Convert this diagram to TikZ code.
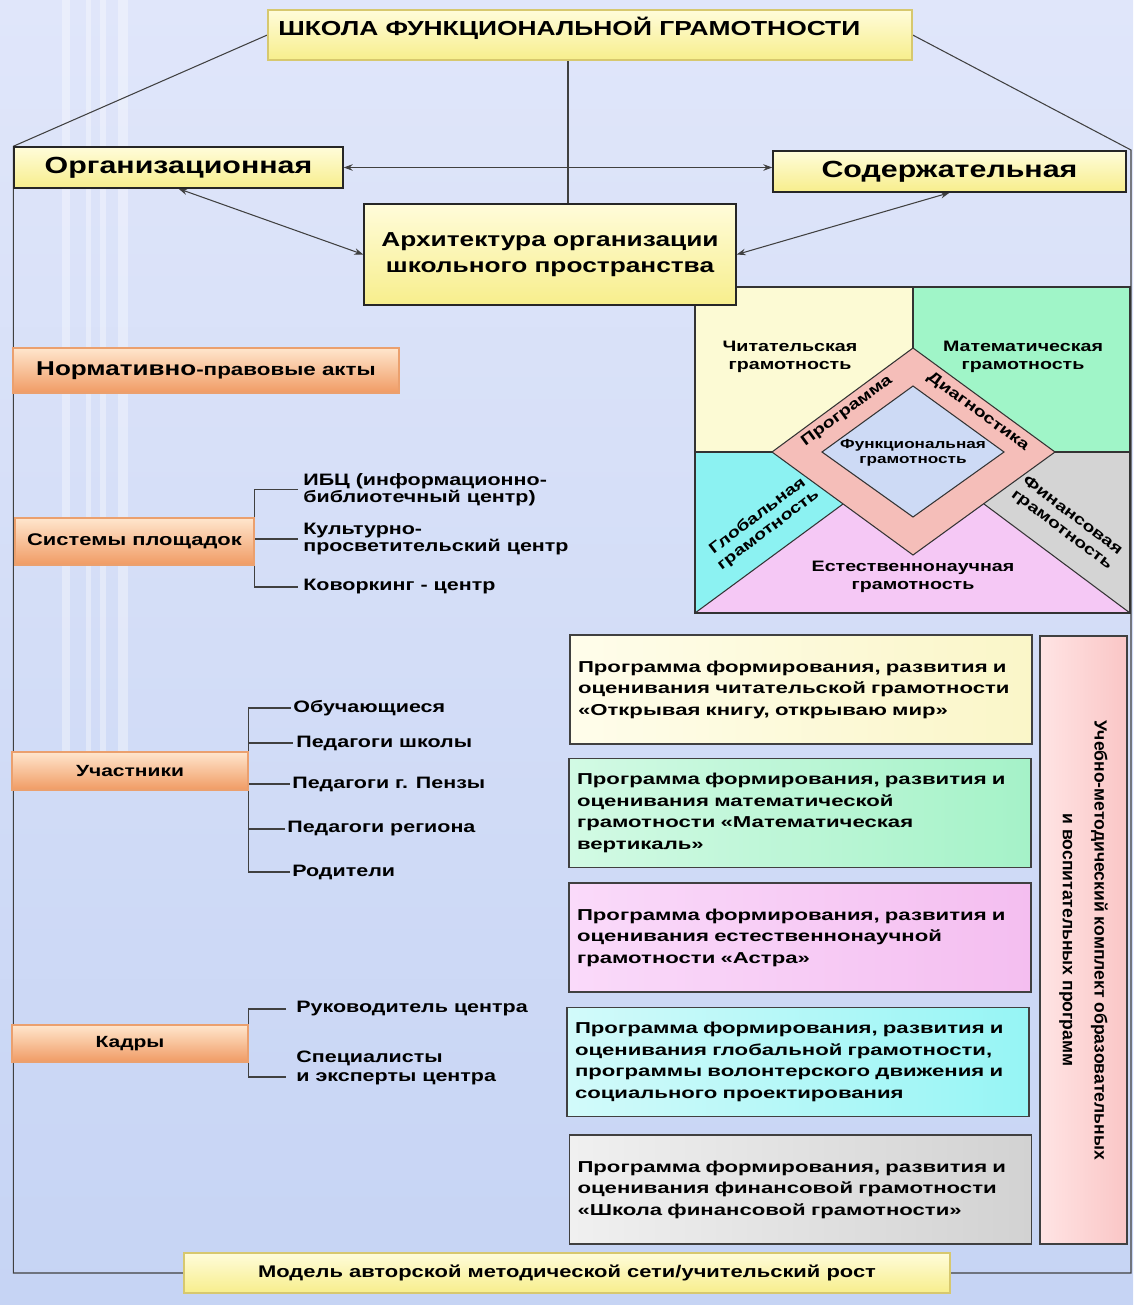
\documentclass[tikz,border=0pt]{standalone}
\usepackage{fontspec}
\setmainfont{Liberation Sans}[FakeStretch=1.3]
\newfontfamily\progfont{Liberation Sans}[FakeStretch=1.4]
\newfontfamily\vertfont{Liberation Sans}
\usetikzlibrary{arrows.meta,calc}
\pgfdeclarelayer{bg}
\pgfdeclarelayer{lines}
\pgfsetlayers{bg,lines,main}

\definecolor{bgT}{RGB}{224,230,250}
\definecolor{bgB}{RGB}{198,212,244}
\definecolor{yelA}{RGB}{255,252,218}
\definecolor{yelB}{RGB}{247,238,140}
\definecolor{yelE}{RGB}{215,200,110}
\definecolor{orA}{RGB}{255,230,205}
\definecolor{orM}{RGB}{250,195,150}
\definecolor{orB}{RGB}{240,155,100}
\definecolor{orE}{RGB}{235,160,110}
\definecolor{chitC}{RGB}{252,250,212}
\definecolor{matC}{RGB}{160,245,200}
\definecolor{globC}{RGB}{140,242,242}
\definecolor{finC}{RGB}{212,212,212}
\definecolor{estC}{RGB}{245,200,245}
\definecolor{ringC}{RGB}{245,190,185}
\definecolor{innerC}{RGB}{205,218,245}
\definecolor{pYa}{RGB}{255,253,235}
\definecolor{pYb}{RGB}{250,246,200}
\definecolor{pGa}{RGB}{210,250,228}
\definecolor{pGb}{RGB}{165,242,200}
\definecolor{pPa}{RGB}{250,218,250}
\definecolor{pPb}{RGB}{244,190,240}
\definecolor{pCa}{RGB}{210,250,250}
\definecolor{pCb}{RGB}{150,245,245}
\definecolor{pRa}{RGB}{240,240,240}
\definecolor{pRb}{RGB}{210,210,210}
\definecolor{umkA}{RGB}{255,228,228}
\definecolor{umkB}{RGB}{250,198,198}

\tikzset{
  sz/.style 2 args={minimum width={#1*0.02cm}, minimum height={#2*0.02cm}},
  conn/.style={draw=black!75, line width=0.6pt},
  arr/.style={conn, {Stealth[length=1.8mm,width=1.3mm]}-{Stealth[length=1.8mm,width=1.3mm]}},
  ybox/.style={draw=black!85, line width=0.8pt, top color=yelA, bottom color=yelB, inner sep=0pt},
  titlebox/.style={draw=yelE, line width=0.8pt, top color=yelA, bottom color=yelB, inner sep=0pt},
  obox/.style={draw=orE, line width=0.6pt, top color=orA, middle color=orM, bottom color=orB, inner sep=0pt, font=\bfseries\fontsize{9.4}{11}\selectfont},
  item/.style={anchor=west, align=left, inner ysep=0pt, font=\bfseries\fontsize{9.4}{10}\selectfont},
  prog/.style={draw=black!75, line width=0.9pt, sz={462}{109}, text width=8.92cm, inner xsep=0.16cm, inner ysep=0pt, align=left, font=\progfont\bfseries\fontsize{9}{12.2}\selectfont},
  dtext/.style={align=center, inner sep=0pt, font=\bfseries\fontsize{8.6}{10}\selectfont},
  region/.style={draw=black!80, line width=0.6pt},
}

\begin{document}
\begin{tikzpicture}[x=0.02cm, y=-0.02cm]
\useasboundingbox (0,0) rectangle (1133,1305);
\begin{pgfonlayer}{bg}
  \shade[top color=bgT, bottom color=bgB] (0,0) rectangle (1133,1305);
  \fill[white, opacity=0.35] (62,0) rectangle (70,760);
  \fill[white, opacity=0.35] (86,0) rectangle (91,760);
  \fill[white, opacity=0.35] (100,0) rectangle (106,760);
  \fill[white, opacity=0.35] (118,0) rectangle (128,760);
\end{pgfonlayer}

% ---------- diamond panel ----------
\fill[chitC] (695,287) rectangle (913,452);
\fill[matC] (913,287) rectangle (1130,452);
\fill[globC] (695,452) -- (772,452) -- (843,504) -- (695,613) -- cycle;
\fill[finC] (1055,452) -- (1130,452) -- (1130,613) -- (984,504) -- cycle;
\fill[estC] (695,613) -- (843,504) -- (913,555) -- (984,504) -- (1130,613) -- cycle;
\draw[region] (695,287) rectangle (1130,613);
\draw[region] (913,287) -- (913,348);
\draw[region] (695,452) -- (772,452);
\draw[region] (1055,452) -- (1130,452);
\draw[region] (843,504) -- (695,613);
\draw[region] (984,504) -- (1130,613);
\filldraw[region, fill=ringC] (913,348) -- (1055,452) -- (913,555) -- (772,452) -- cycle;
\filldraw[region, fill=innerC] (913,386) -- (1004,452) -- (913,517) -- (822,452) -- cycle;

\node[dtext] (chit) at (790,357) {Читательская\\грамотность};
\node[dtext] (mat) at (1023,357) {Математическая\\грамотность};
\node[dtext, rotate=36.4] (prg) at (847,411) {Программа};
\node[dtext, rotate=-36.4] (diag) at (978,412) {Диагностика};
\node[dtext, font=\bfseries\fontsize{7.5}{8.5}\selectfont] (func) at (913,453) {Функциональная\\грамотность};
\node[dtext, rotate=37] (glob) at (763,523) {Глобальная\\грамотность};
\node[dtext, rotate=-37] (fin) at (1067,523) {Финансовая\\грамотность};
\node[dtext] (est) at (913,577) {Естественнонаучная\\грамотность};

% ---------- top boxes ----------
\node[titlebox, sz={644}{50}] (title) at (590,35) {};
\node[anchor=west, inner sep=0pt, font=\bfseries\fontsize{11.55}{13}\selectfont] (titletext) at (278,28) {ШКОЛА ФУНКЦИОНАЛЬНОЙ ГРАМОТНОСТИ};
\node[ybox, sz={329}{41}, font=\bfseries\fontsize{13.3}{15}\selectfont] (org) at (178.5,167.5) {Организационная};
\node[ybox, sz={353}{41}, font=\bfseries\fontsize{13.3}{15}\selectfont] (sod) at (949.5,171.5) {Содержательная};
\node[ybox, sz={372}{101}, align=center, font=\bfseries\fontsize{11.5}{14.7}\selectfont] (arch) at (550,254.5) {Архитектура организации\\школьного пространства};

% ---------- left orange boxes ----------
\node[obox, sz={386}{45}] (norm) at (206,370.5) {{\fontsize{11.4}{13}\selectfont Нормативно}{\fontsize{9.8}{11}\selectfont -правовые акты}};
\node[obox, sz={239}{47}, font=\bfseries\fontsize{9.6}{11}\selectfont] (sys) at (134.5,541.5) {Системы площадок};
\node[obox, sz={236}{38}, font=\bfseries\fontsize{9.2}{11}\selectfont] (uch) at (130,771) {Участники};
\node[obox, sz={236}{37}, font=\bfseries\fontsize{9.2}{11}\selectfont] (kad) at (130,1043.5) {Кадры};

% items of Системы площадок
\node[item, inner xsep=0.1cm, font=\bfseries\fontsize{9.4}{9.6}\selectfont] (ibc) at (298,489.5) {ИБЦ (информационно-\\библиотечный центр)};
\node[item, inner xsep=0.1cm, font=\bfseries\fontsize{9.4}{10.2}\selectfont] (kpc) at (298,539) {Культурно-\\просветительский центр};
\node[item, inner xsep=0.1cm] (cow) at (298,587) {Коворкинг - центр};

% items of Участники
\node[item, inner xsep=0.04cm] (ob) at (291,708) {Обучающиеся};
\node[item, inner xsep=0.06cm] (ps) at (293,743) {Педагоги школы};
\node[item, inner xsep=0.04cm] (pp) at (290,784) {Педагоги г. Пензы};
\node[item, inner xsep=0.04cm] (pr) at (285,829) {Педагоги региона};
\node[item, inner xsep=0.04cm] (rod) at (290,872) {Родители};

% items of Кадры
\node[item, inner xsep=0.2cm] (ruk) at (286,1009) {Руководитель центра};
\node[item, inner xsep=0.2cm, font=\bfseries\fontsize{9.4}{11.3}\selectfont] (spec) at (286,1068) {Специалисты\\и эксперты центра};
\coordinate (spect) at ($(spec.west)+(0,9)$);

% ---------- program boxes ----------
\node[prog, left color=pYa, right color=pYb] (p1) at (801,689.5) {\mbox{Программа формирования, развития и}\\\mbox{оценивания читательской грамотности}\\\mbox{«Открывая книгу, открываю мир»}};
\node[prog, left color=pGa, right color=pGb] (p2) at (800,813) {\mbox{Программа формирования, развития и}\\\mbox{оценивания математической}\\\mbox{грамотности «Математическая}\\\mbox{вертикаль»}};
\node[prog, left color=pPa, right color=pPb] (p3) at (800,937.5) {\mbox{Программа формирования, развития и}\\\mbox{оценивания естественнонаучной}\\\mbox{грамотности «Астра»}};
\node[prog, left color=pCa, right color=pCb] (p4) at (798,1062) {\mbox{Программа формирования, развития и}\\\mbox{оценивания глобальной грамотности,}\\\mbox{программы волонтерского движения и}\\\mbox{социального проектирования}};
\node[prog, left color=pRa, right color=pRb] (p5) at (800.5,1189.5) {\mbox{Программа формирования, развития и}\\\mbox{оценивания финансовой грамотности}\\\mbox{«Школа финансовой грамотности»}};

\node[draw=black!75, line width=0.9pt, left color=umkA, right color=umkB, rotate=-90, sz={608}{87}, inner sep=0pt, align=center, font=\vertfont\bfseries\fontsize{10}{18}\selectfont] (umk) at (1083.5,940) {Учебно-методический комплект образовательных\\и воспитательных программ};

% ---------- bottom ----------
\node[titlebox, sz={766}{40}, font=\bfseries\fontsize{9.6}{11}\selectfont] (model) at (567,1273) {Модель авторской методической сети/учительский рост};

% ---------- connectors ----------
\coordinate (tvx) at (568,0);
\coordinate (rtop) at (1131,150);
\begin{pgfonlayer}{lines}
  \draw[conn] (title.south -| tvx) -- (arch.north -| tvx);
  \draw[conn] (title.west) -- (org.north west) -- (org.north west |- model.west) -- (model.west);
  \draw[conn] (title.east) -- (rtop) -- (rtop |- model.east) -- (model.east);
  \draw[arr] (org.east) -- (sod.west |- org.east);
  \draw[arr] (org.south) -- (arch.west);
  \draw[arr] (sod.south) -- (arch.east);
  % Системы площадок
  \draw[conn] (ibc.west) -- (ibc.west -| sys.east) -- (cow.west -| sys.east) -- (cow.west);
  \draw[conn] (kpc.west -| sys.east) -- (kpc.west);
  % Участники
  \draw[conn] (ob.west) -- (ob.west -| uch.east) -- (rod.west -| uch.east) -- (rod.west);
  \draw[conn] (ps.west -| uch.east) -- (ps.west);
  \draw[conn] (pp.west -| uch.east) -- (pp.west);
  \draw[conn] (pr.west -| uch.east) -- (pr.west);
  % Кадры
  \draw[conn] (ruk.west) -- (ruk.west -| kad.east) -- (spect -| kad.east) -- (spect);
\end{pgfonlayer}
\end{tikzpicture}
\end{document}
